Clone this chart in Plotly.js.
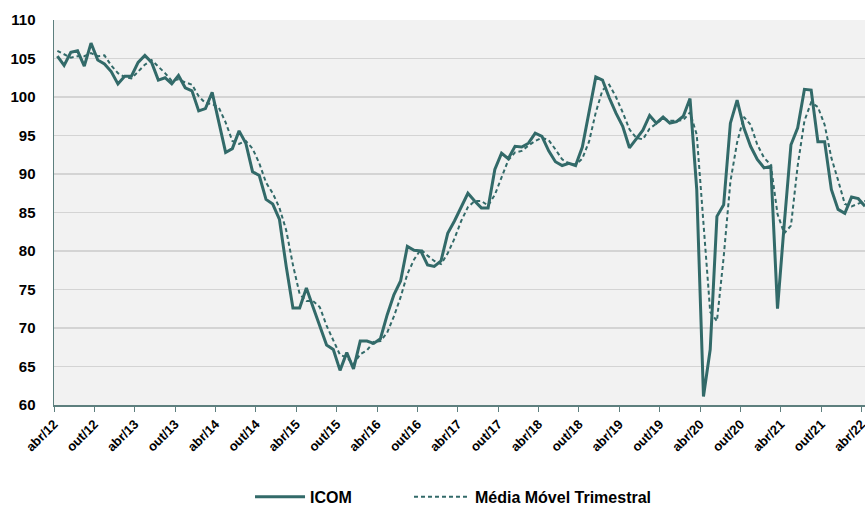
<!DOCTYPE html>
<html>
<head>
<meta charset="utf-8">
<script src="https://cdn.plot.ly/plotly-3.0.1.min.js"></script>
<style>
  html, body { margin: 0; padding: 0; background: #ffffff; }
  #chart { width: 865px; height: 507px; }
</style>
</head>
<body>
<div id="chart"></div>
<script>
// Monthly index, abr/12 (0) ... abr/22 (120)
const months = Array.from({length: 121}, (_, i) => i);

const icom = [
  105.3, 104.1, 105.8, 106.0, 104.0, 107.0, 104.8, 104.3, 103.3, 101.7, 102.7, 102.7,
  104.5, 105.4, 104.5, 102.2, 102.5, 101.7, 102.8, 101.2, 100.8, 98.2, 98.5, 100.6,
  96.7, 92.8, 93.3, 95.6, 94.0, 90.3, 89.8, 86.7, 86.1, 84.1, 78.0, 72.6,
  72.6, 75.2, 72.7, 70.3, 67.8, 67.2, 64.5, 66.8, 64.7, 68.3, 68.3, 68.0,
  68.6, 71.7, 74.3, 76.1, 80.6, 80.1, 80.0, 78.2, 78.0, 78.7, 82.3, 83.9,
  85.6, 87.5, 86.5, 85.6, 85.6, 90.6, 92.7, 92.0, 93.6, 93.5, 94.0, 95.3,
  94.9, 93.0, 91.6, 91.1, 91.4, 91.1, 93.5, 97.9, 102.6, 102.2, 99.9, 97.9,
  96.2, 93.4, 94.5, 95.7, 97.6, 96.6, 97.4, 96.6, 96.8, 97.5, 99.8, 88.0,
  61.1, 67.2, 84.5, 86.0, 96.6, 99.6, 96.0, 93.6, 91.9, 90.8, 91.0, 72.5,
  83.5, 93.8, 96.0, 101.0, 100.9, 94.2, 94.2, 88.0, 85.4, 84.9, 87.0, 86.8,
  85.8
];

const mediaMovel = [
  106.0, 105.5, 105.1, 105.3, 105.3, 105.7, 105.3, 105.4, 104.1, 103.1, 102.6, 102.4,
  103.3, 104.2, 104.8, 104.0, 103.1, 102.1, 102.3, 101.9, 101.6, 100.1, 99.2, 99.1,
  98.6, 96.7, 94.3, 93.9, 94.3, 93.3, 91.4, 88.9, 87.5, 85.6, 82.7, 78.2,
  74.4, 73.5, 73.5, 72.7, 70.3, 68.4, 66.5, 66.2, 65.3, 66.6, 67.1, 68.2,
  68.3, 69.4, 71.5, 74.0, 77.0, 78.9, 80.2, 79.4, 78.7, 78.3, 79.7, 81.6,
  83.9, 85.7, 86.5, 86.5, 85.9, 87.3, 89.6, 91.8, 92.8, 93.0, 93.7, 94.3,
  94.7, 94.4, 93.2, 91.9, 91.4, 91.2, 92.0, 94.2, 98.0, 100.9, 101.6, 100.0,
  98.0, 95.8, 94.7, 94.5, 95.9, 96.6, 97.2, 96.9, 96.9, 97.0, 98.0, 95.1,
  83.0, 72.1, 70.9, 79.2, 89.0, 94.1, 97.4, 96.4, 93.8, 92.1, 91.2, 84.8,
  82.3, 83.3, 91.1, 96.9, 99.3, 98.7, 96.4, 92.1, 89.2, 86.1, 85.8, 86.2,
  86.5
];

const tickLabels = [
  "abr/12", "out/12", "abr/13", "out/13", "abr/14", "out/14", "abr/15", "out/15",
  "abr/16", "out/16", "abr/17", "out/17", "abr/18", "out/18", "abr/19", "out/19",
  "abr/20", "out/20", "abr/21", "out/21", "abr/22"
];
const tickPositions = tickLabels.map((_, i) => i * 6 - 0.5);

const teal = "#326a69";
const legendFont = {size: 16, weight: "bold", color: "#000000"};

const traces = [
  {
    x: months, y: icom, name: "ICOM", type: "scatter", mode: "lines",
    line: {color: teal, width: 3}, legend: "legend"
  },
  {
    x: months, y: mediaMovel, name: "Média Móvel Trimestral", type: "scatter", mode: "lines",
    line: {color: teal, width: 2, dash: "4px,3px"}, legend: "legend2"
  }
];

const layout = {
  width: 865, height: 507,
  margin: {l: 54, r: 0, t: 20, b: 102, pad: 0},
  paper_bgcolor: "#ffffff",
  plot_bgcolor: "#f2f2f2",
  font: {family: "Liberation Sans, Arial, sans-serif", color: "#000000"},
  showlegend: true,
  legend: {
    orientation: "h", x: 0.2417, xanchor: "left",
    yref: "container", y: 0.02, yanchor: "middle",
    font: legendFont, itemwidth: 50, bgcolor: "rgba(0,0,0,0)"
  },
  legend2: {
    orientation: "h", x: 0.4377, xanchor: "left",
    yref: "container", y: 0.02, yanchor: "middle",
    font: legendFont, itemwidth: 56, bgcolor: "rgba(0,0,0,0)"
  },
  xaxis: {
    range: [-0.5, 120.0],
    tickmode: "array", tickvals: tickPositions, ticktext: tickLabels,
    tickangle: -45, ticklabeloverflow: "allow",
    tickfont: {size: 13, weight: "bold", color: "#000000"},
    ticks: "outside", ticklen: 5, tickwidth: 1, tickcolor: "#5d7f7e",
    showgrid: false, zeroline: false,
    showline: true, linecolor: "#5d7f7e", linewidth: 1.5
  },
  yaxis: {
    range: [60, 110], dtick: 5, tick0: 60,
    tickfont: {size: 15, weight: "bold", color: "#000000"},
    ticks: "outside", ticklen: 14, tickcolor: "rgba(0,0,0,0)",
    showgrid: true, gridcolor: "#d4d4d4", gridwidth: 1.5,
    zeroline: false,
    showline: true, linecolor: "#5d7f7e", linewidth: 1.5
  }
};

Plotly.newPlot("chart", traces, layout, {displayModeBar: false, staticPlot: true});
</script>
</body>
</html>
